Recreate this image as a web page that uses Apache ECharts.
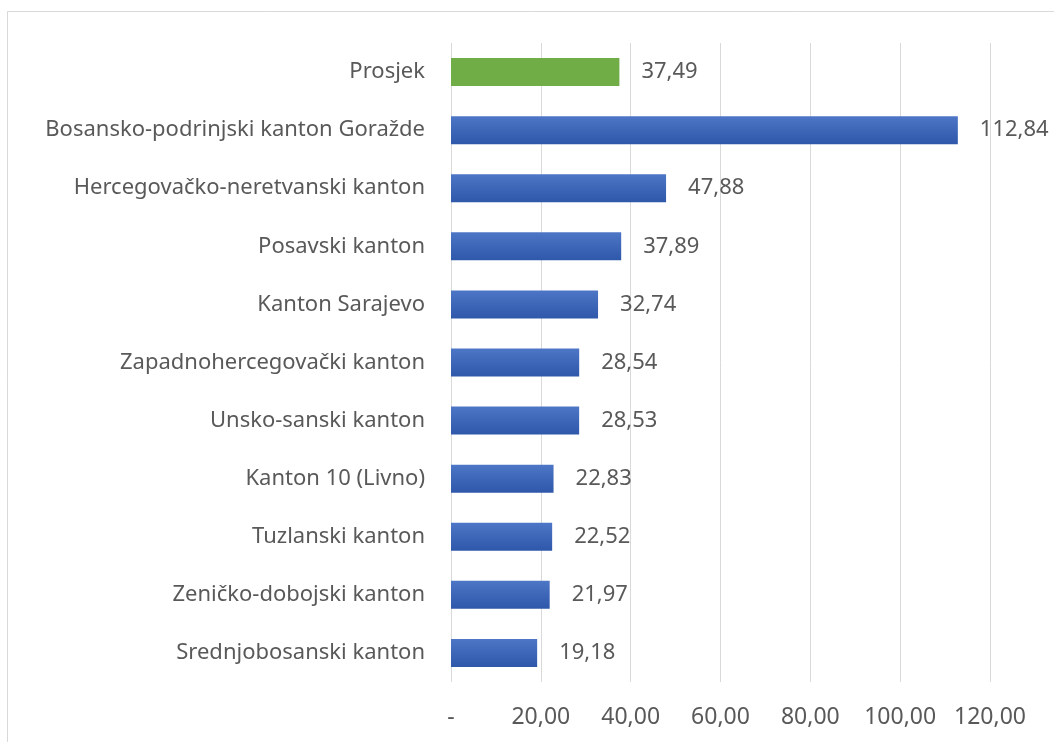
<!DOCTYPE html>
<html>
<head>
<meta charset="utf-8">
<script src="https://cdn.jsdelivr.net/npm/echarts@6/dist/echarts.min.js"></script>
<style>
    html, body { margin: 0; padding: 0; background: #fff; }
    #chart { width: 1054px; height: 742px; }
</style>
</head>
<body>
<div id="chart"></div>
<script>
var cantons = [
    'Prosjek',
    'Bosansko-podrinjski kanton Goražde',
    'Hercegovačko-neretvanski kanton',
    'Posavski kanton',
    'Kanton Sarajevo',
    'Zapadnohercegovački kanton',
    'Unsko-sanski kanton',
    'Kanton 10 (Livno)',
    'Tuzlanski kanton',
    'Zeničko-dobojski kanton',
    'Srednjobosanski kanton'
];
var values = [37.49, 112.84, 47.88, 37.89, 32.74, 28.54, 28.53, 22.83, 22.52, 21.97, 19.18];

var textColor = '#595959';
var fontFamily = '"Noto Sans", sans-serif';

function fmt(v) {
    if (v === 0) return '-';
    return v.toFixed(2).replace('.', ',');
}

var blue = new echarts.graphic.LinearGradient(0, 0, 0, 1, [
    {offset: 0, color: '#4d76c6'},
    {offset: 1, color: '#2f57aa'}
]);

var chart = echarts.init(document.getElementById('chart'));

var option = {
    animation: false,
    backgroundColor: '#ffffff',
    graphic: [{
        type: 'rect',
        shape: {x: 7.5, y: 11.5, width: 1100, height: 800},
        style: {fill: 'none', stroke: '#d9d9d9', lineWidth: 1},
        silent: true
    }],
    grid: {
        left: 451,
        right: 64,
        top: 43,
        bottom: 60
    },
    xAxis: {
        type: 'value',
        min: 0,
        max: 120,
        interval: 20,
        axisLine: {show: false},
        axisTick: {show: false},
        splitLine: {lineStyle: {color: '#d9d9d9', width: 1}},
        axisLabel: {
            color: textColor,
            fontFamily: fontFamily,
            fontSize: 23,
            margin: 24,
            formatter: fmt
        }
    },
    yAxis: {
        type: 'category',
        inverse: true,
        data: cantons,
        axisLine: {show: false},
        axisTick: {show: false},
        axisLabel: {
            color: textColor,
            fontFamily: fontFamily,
            fontSize: 22,
            margin: 26
        }
    },
    series: [{
        type: 'bar',
        barWidth: 28,
        data: values.map(function (v, i) {
            return {
                value: v,
                itemStyle: i === 0 ? {color: '#70ad47'} : {color: blue}
            };
        }),
        label: {
            show: true,
            position: 'right',
            distance: 22,
            color: textColor,
            fontFamily: fontFamily,
            fontSize: 22,
            formatter: function (p) { return fmt(p.value); }
        }
    }]
};

chart.setOption(option);
</script>
</body>
</html>
